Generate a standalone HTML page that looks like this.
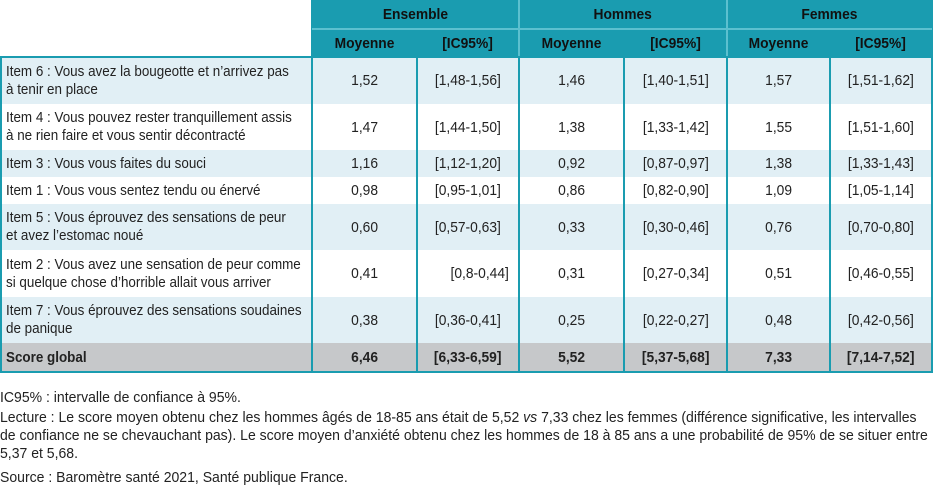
<!DOCTYPE html>
<html><head><meta charset="utf-8"><style>
body{margin:0;width:934px;height:487px;background:#fff;font-family:"Liberation Sans",sans-serif;font-size:15px;color:#222;position:relative;overflow:hidden}
.a{position:absolute;box-sizing:border-box}
.h{background:#1a9cb0;color:#111;font-weight:bold;display:flex;align-items:center;justify-content:center}
.c{display:flex;align-items:center;justify-content:center}
.l{display:flex;align-items:center;padding-left:6px;line-height:18px}
.s{display:inline-block;white-space:nowrap;transform:scaleX(0.92)}
.l .s{transform-origin:0 50%;transform:scaleX(0.895)}
.n{position:absolute;left:0;white-space:nowrap;line-height:18px;transform:scaleX(0.935);transform-origin:0 0}
</style></head><body>
<div id="t"></div>
<script>
var cols=[0,312,417,519,624,727,830,932];
var rows=[57,104,150,177,204,250,297,343,372];
var bgs=['#e1eff5','#fff','#e1eff5','#fff','#e1eff5','#fff','#e1eff5','#c6c8ca'];
var data=[
["Item 6 : Vous avez la bougeotte et n’arrivez pas<br>à tenir en place","1,52","[1,48-1,56]","1,46","[1,40-1,51]","1,57","[1,51-1,62]"],
["Item 4 : Vous pouvez rester tranquillement assis<br>à ne rien faire et vous sentir décontracté","1,47","[1,44-1,50]","1,38","[1,33-1,42]","1,55","[1,51-1,60]"],
["Item 3 : Vous vous faites du souci","1,16","[1,12-1,20]","0,92","[0,87-0,97]","1,38","[1,33-1,43]"],
["Item 1 : Vous vous sentez tendu ou énervé","0,98","[0,95-1,01]","0,86","[0,82-0,90]","1,09","[1,05-1,14]"],
["Item 5 : Vous éprouvez des sensations de peur<br>et avez l’estomac noué","0,60","[0,57-0,63]","0,33","[0,30-0,46]","0,76","[0,70-0,80]"],
["Item 2 : Vous avez une sensation de peur comme<br>si quelque chose d’horrible allait vous arriver","0,41","&nbsp;&nbsp;&nbsp;&nbsp;&nbsp;&nbsp;[0,8-0,44]","0,31","[0,27-0,34]","0,51","[0,46-0,55]"],
["Item 7 : Vous éprouvez des sensations soudaines<br>de panique","0,38","[0,36-0,41]","0,25","[0,22-0,27]","0,48","[0,42-0,56]"],
["Score global","6,46","[6,33-6,59]","5,52","[5,37-5,68]","7,33","[7,14-7,52]"]];
var h='';
var g=['Ensemble','Hommes','Femmes'];
for(var i=0;i<3;i++){h+='<div class="a h" style="left:'+cols[1+2*i]+'px;top:0;width:'+(cols[3+2*i]-cols[1+2*i])+'px;height:29px"><span class="s">'+g[i]+'</span></div>';
for(var j=0;j<2;j++){var x=cols[1+2*i+j];h+='<div class="a h" style="left:'+x+'px;top:29px;width:'+(cols[2+2*i+j]-x)+'px;height:28px"><span class="s">'+(j?'[IC95%]':'Moyenne')+'</span></div>';}}
for(var r=0;r<8;r++){var y=rows[r],hh=rows[r+1]-y,b=r==7?'font-weight:bold;':'';
h+='<div class="a l" style="'+b+'left:0;top:'+y+'px;width:312px;height:'+hh+'px;background:'+bgs[r]+'"><span class="s">'+data[r][0]+'</span></div>';
for(var c=1;c<7;c++)h+='<div class="a c" style="'+b+'left:'+cols[c]+'px;top:'+y+'px;width:'+(cols[c+1]-cols[c])+'px;height:'+hh+'px;background:'+bgs[r]+'"><span class="s">'+data[r][c]+'</span></div>';}
for(var c=1;c<8;c++){var tp=(c%2==0)?29:0;h+='<div class="a" style="left:'+(cols[c]-1)+'px;top:'+tp+'px;width:2px;height:'+(373-tp)+'px;background:#1a9cb0"></div>';}
h+='<div class="a" style="left:312px;top:28px;width:620px;height:2px;background:#5cc0cf"></div>';
for(var c=3;c<7;c+=2)h+='<div class="a" style="left:'+(cols[c]-1)+'px;top:0;width:2px;height:57px;background:#5cc0cf"></div>';
h+='<div class="a" style="left:0;top:56px;width:2px;height:317px;background:#1a9cb0"></div>';
h+='<div class="a" style="left:0;top:371px;width:933px;height:2px;background:#1a9cb0"></div>';
h+='<div class="a" style="left:0;top:56px;width:933px;height:2px;background:#1a9cb0"></div>';
document.getElementById('t').innerHTML=h;
</script>
<div class="n" style="top:389px">IC95% : intervalle de confiance à 95%.</div>
<div class="n" style="top:409px">Lecture : Le score moyen obtenu chez les hommes âgés de 18-85 ans était de 5,52 <i>vs</i> 7,33 chez les femmes (différence significative, les intervalles</div>
<div class="n" style="top:427px">de confiance ne se chevauchant pas). Le score moyen d’anxiété obtenu chez les hommes de 18 à 85 ans a une probabilité de 95% de se situer entre</div>
<div class="n" style="top:445px">5,37 et 5,68.</div>
<div class="n" style="top:469px">Source : Baromètre santé 2021, Santé publique France.</div>
</body></html>
